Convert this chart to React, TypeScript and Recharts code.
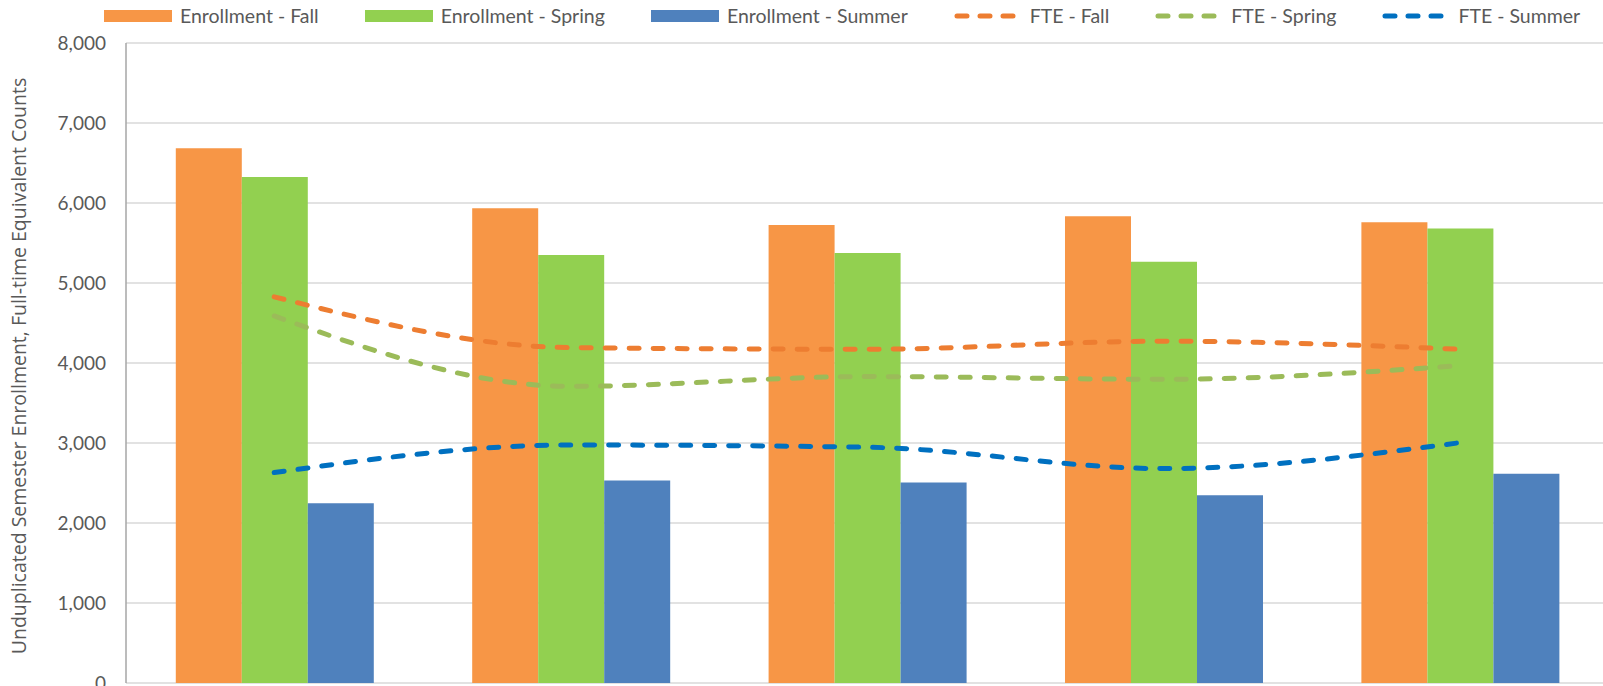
import { Bar, CartesianGrid, ComposedChart, Label, Line, XAxis, YAxis } from 'recharts'

const years = ['Year 1', 'Year 2', 'Year 3', 'Year 4', 'Year 5']
const enrollFall = [6685, 5935, 5725, 5835, 5760]
const enrollSpring = [6325, 5350, 5375, 5265, 5680]
const enrollSummer = [2248, 2532, 2507, 2348, 2615]
const fteFall = [4827, 4192, 4172, 4272, 4172]
const fteSpring = [4588, 3708, 3830, 3796, 3967]
const fteSummer = [2630, 2975, 2947, 2680, 3004]
const yTicks = [0, 1000, 2000, 3000, 4000, 5000, 6000, 7000, 8000]
const edgeTicks = [0, 1, 2, 3, 4, 5]

const data = years.map((year, i) => ({
  year,
  enrollFall: enrollFall[i],
  enrollSpring: enrollSpring[i],
  enrollSummer: enrollSummer[i],
  fteFall: fteFall[i],
  fteSpring: fteSpring[i],
  fteSummer: fteSummer[i],
}))

const TEXT = '#595959'
const FONT = 'Lato, sans-serif'

type LegendItem = { label: string; color: string; kind: 'bar' | 'line' }

const legendItems: LegendItem[] = [
  { label: 'Enrollment - Fall', color: '#F79646', kind: 'bar' },
  { label: 'Enrollment - Spring', color: '#92D050', kind: 'bar' },
  { label: 'Enrollment - Summer', color: '#4F81BD', kind: 'bar' },
  { label: 'FTE - Fall', color: '#ED7D31', kind: 'line' },
  { label: 'FTE - Spring', color: '#9BBB59', kind: 'line' },
  { label: 'FTE - Summer', color: '#0070C0', kind: 'line' },
]

function TopLegend() {
  return (
    <div
      style={{
        position: 'absolute',
        top: 4,
        left: 104,
        display: 'flex',
        alignItems: 'center',
        gap: 46,
        fontFamily: FONT,
        fontSize: 19.5,
        color: TEXT,
        whiteSpace: 'nowrap',
        zIndex: 2,
      }}
    >
      {legendItems.map((item) => (
        <div key={item.label} style={{ display: 'flex', alignItems: 'center', gap: 8 }}>
          <svg width={68} height={14}>
            {item.kind === 'bar' ? (
              <rect x={0} y={1} width={68} height={12} fill={item.color} />
            ) : (
              <line
                x1={3}
                y1={7}
                x2={66}
                y2={7}
                stroke={item.color}
                strokeWidth={5}
                strokeLinecap='round'
                strokeDasharray='10 13'
              />
            )}
          </svg>
          <span>{item.label}</span>
        </div>
      ))}
    </div>
  )
}

const fmt = (v: number) => v.toLocaleString('en-US')

export default function App() {
  return (
    <div
      style={{
        position: 'absolute',
        left: 0,
        top: 0,
        width: 1603,
        height: 686,
        overflow: 'hidden',
        background: '#fff',
      }}
    >
      <TopLegend />
      <ComposedChart
        width={1610}
        height={686}
        data={data}
        margin={{ top: 43, right: 2, bottom: 0, left: 0 }}
        barCategoryGap='16.8%'
        barGap={0}
      >
        <CartesianGrid vertical={false} stroke='#d9d9d9' strokeWidth={1.5} />
        <XAxis dataKey='year' hide />
        <XAxis
          xAxisId='edges'
          type='number'
          domain={[0, 5]}
          ticks={edgeTicks}
          allowDataOverflow
          tick={false}
          height={3}
          tickSize={6}
          stroke='#a6a6a6'
          strokeWidth={1.5}
        />
        <YAxis
          width={126}
          domain={[0, 8000]}
          ticks={yTicks}
          interval={0}
          tickFormatter={fmt}
          tickLine={false}
          tickSize={12}
          tickMargin={8}
          stroke='#a6a6a6'
          strokeWidth={1.5}
          tick={{ fill: TEXT, fontSize: 19, fontFamily: FONT }}
        >
          <Label
            content={({ viewBox }: any) => {
              const cy = viewBox.y + viewBox.height / 2 + 3
              return (
                <text
                  x={18}
                  y={cy}
                  transform={`rotate(-90 18 ${cy})`}
                  textAnchor='middle'
                  dominantBaseline='central'
                  fill={TEXT}
                  fontSize={19.5}
                  fontFamily='Open Sans, sans-serif'
                >
                  Unduplicated Semester Enrollment, Full-time Equivalent Counts
                </text>
              )
            }}
          />
        </YAxis>
        <Bar dataKey='enrollFall' name='Enrollment - Fall' fill='#F79646' isAnimationActive={false} />
        <Bar dataKey='enrollSpring' name='Enrollment - Spring' fill='#92D050' isAnimationActive={false} />
        <Bar dataKey='enrollSummer' name='Enrollment - Summer' fill='#4F81BD' isAnimationActive={false} />
        <Line
          dataKey='fteFall'
          name='FTE - Fall'
          type='monotone'
          stroke='#ED7D31'
          strokeWidth={5}
          strokeLinecap='round'
          strokeDasharray='10 14'
          dot={false}
          activeDot={false}
          isAnimationActive={false}
        />
        <Line
          dataKey='fteSpring'
          name='FTE - Spring'
          type='monotone'
          stroke='#9BBB59'
          strokeWidth={5}
          strokeLinecap='round'
          strokeDasharray='10 14'
          dot={false}
          activeDot={false}
          isAnimationActive={false}
        />
        <Line
          dataKey='fteSummer'
          name='FTE - Summer'
          type='monotone'
          stroke='#0070C0'
          strokeWidth={5}
          strokeLinecap='round'
          strokeDasharray='10 14'
          dot={false}
          activeDot={false}
          isAnimationActive={false}
        />
      </ComposedChart>
    </div>
  )
}
